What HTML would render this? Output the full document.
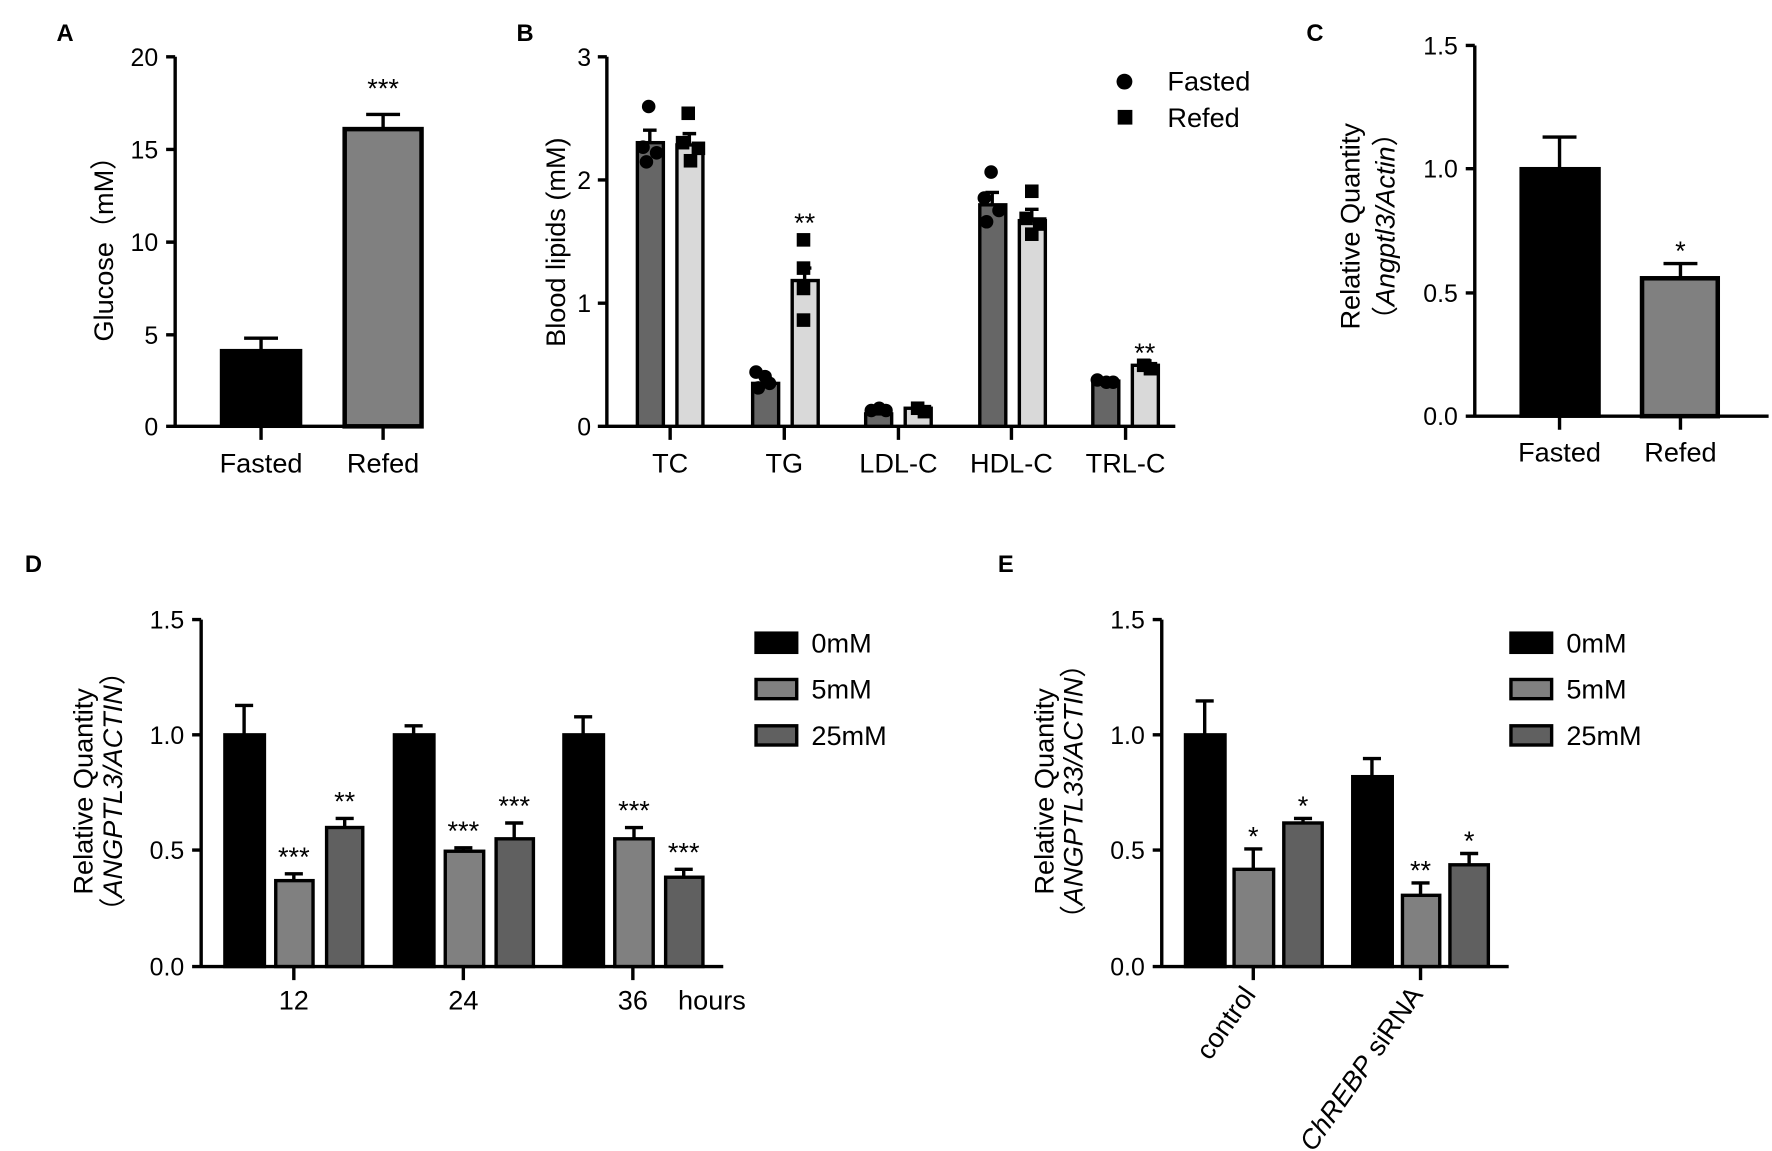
<!DOCTYPE html>
<html><head><meta charset="utf-8"><style>
html,body{margin:0;padding:0;background:#fff}
svg{display:block}
text{font-family:"Liberation Sans",Arial,sans-serif;fill:#000}
.t{font-size:22px}
.c{font-size:24px}
.p{font-size:21px;font-weight:bold}
.s{font-size:24px}
</style></head><body>
<svg width="1772" height="1151" viewBox="0 0 1568 1018" xmlns="http://www.w3.org/2000/svg">
<rect width="1568" height="1018" fill="#fff"/>
<g stroke="#000" stroke-width="3" fill="none">
<path d="M155,50V377M148,377H373M147,50H155M147,132H155M147,214H155M147,296H155M147,377H155M231,377V389M339,377V389"/>
<path d="M537,50V377M530,377H1040M529,50H537M529,159H537M529,268H537M529,377H537M593,377V389M694,377V389M795,377V389M895,377V389M996,377V389"/>
<path d="M1305,40V368M1298,368H1565M1297,40H1305M1297,149H1305M1297,259H1305M1297,368H1305M1380,368V380M1487,368V380"/>
<path d="M178,548V855M171,855H640M170,548H178M170,650H178M170,752H178M170,855H178M260,855V867M410,855V867M560,855V867"/>
<path d="M1028,548V855M1021,855H1335M1020,548H1028M1020,650H1028M1020,752H1028M1020,855H1028M1109,855V867M1257,855V867"/>
</g>
<g stroke="#000" stroke-width="3">
<path d="M231,310V299M216,299H246M339,114V101M324,101H354" fill="none"/>
<rect x="196" y="310" width="70" height="67" fill="#000"/>
<rect x="305" y="114" width="68" height="263" fill="#808080" stroke-width="4"/>
</g>
<text class="p" x="50" y="36">A</text>
<text class="s" x="339" y="86" text-anchor="middle">***</text>
<g class="t" text-anchor="end"><text x="140" y="58">20</text><text x="140" y="140">15</text><text x="140" y="222">10</text><text x="140" y="304">5</text><text x="140" y="385">0</text></g>
<g class="c" text-anchor="middle"><text x="231" y="418">Fasted</text><text x="339" y="418">Refed</text></g>
<text class="c" transform="translate(100,214) rotate(-90)" text-anchor="middle">Glucose（mM）</text>
<text class="p" x="457" y="36">B</text>
<g class="t" text-anchor="end"><text x="523" y="58">3</text><text x="523" y="167">2</text><text x="523" y="276">1</text><text x="523" y="385">0</text></g>
<g class="c" text-anchor="middle"><text x="593" y="418">TC</text><text x="694" y="418">TG</text><text x="795" y="418">LDL-C</text><text x="895" y="418">HDL-C</text><text x="996" y="418">TRL-C</text></g>
<text class="c" transform="translate(500,214) rotate(-90)" text-anchor="middle">Blood lipids (mM)</text>
<g stroke="#000" stroke-width="3">
<rect x="564" y="126" width="23" height="251" fill="#666"/><rect x="599" y="128" width="23" height="249" fill="#d9d9d9"/>
<rect x="666" y="339" width="23" height="38" fill="#666"/><rect x="701" y="248" width="23" height="129" fill="#d9d9d9"/>
<rect x="766" y="366" width="23" height="11" fill="#666"/><rect x="801" y="361" width="23" height="16" fill="#d9d9d9"/>
<rect x="867" y="181" width="23" height="196" fill="#666"/><rect x="902" y="195" width="23" height="182" fill="#d9d9d9"/>
<rect x="967" y="337" width="23" height="40" fill="#666"/><rect x="1002" y="323" width="23" height="54" fill="#d9d9d9"/>
<path fill="none" d="M575,126V115M569,115H581M610,128V118M604,118H616M712,248V237M706,237H718M878,181V170M872,170H884M913,195V185M907,185H919M1013,323V319M1007,319H1019"/>
</g>
<g fill="#000">
<circle cx="574" cy="94" r="6"/><circle cx="569" cy="130" r="6"/><circle cx="581" cy="135" r="6"/><circle cx="572" cy="143" r="6"/>
<rect x="603" y="94" width="12" height="12"/><rect x="598" y="120" width="12" height="12"/><rect x="612" y="125" width="12" height="12"/><rect x="605" y="136" width="12" height="12"/>
<circle cx="669" cy="329" r="6"/><circle cx="677" cy="333" r="6"/><circle cx="681" cy="339" r="6"/><circle cx="671" cy="343" r="6"/>
<rect x="705" y="206" width="12" height="12"/><rect x="705" y="231" width="12" height="12"/><rect x="705" y="249" width="12" height="12"/><rect x="705" y="277" width="12" height="12"/>
<circle cx="771" cy="363" r="6"/><circle cx="778" cy="361" r="6"/><circle cx="784" cy="363" r="6"/>
<rect x="806" y="355" width="12" height="12"/><rect x="812" y="358" width="12" height="12"/>
<circle cx="877" cy="152" r="6"/><circle cx="871" cy="175" r="6"/><circle cx="884" cy="186" r="6"/><circle cx="873" cy="196" r="6"/>
<rect x="907" y="163" width="12" height="12"/><rect x="902" y="187" width="12" height="12"/><rect x="914" y="192" width="12" height="12"/><rect x="907" y="201" width="12" height="12"/>
<circle cx="971" cy="336" r="6"/><circle cx="979" cy="338" r="6"/><circle cx="985" cy="338" r="6"/>
<rect x="1006" y="317" width="12" height="12"/><rect x="1012" y="320" width="12" height="12"/>
<circle cx="995" cy="72" r="7"/><rect x="989" y="97" width="13" height="13"/>
</g>
<text class="s" x="712" y="205" text-anchor="middle">**</text>
<text class="s" x="1013" y="320" text-anchor="middle">**</text>
<text class="c" x="1033" y="80">Fasted</text><text class="c" x="1033" y="112">Refed</text>
<text class="p" x="1156" y="36">C</text>
<g class="t" text-anchor="end"><text x="1290" y="48">1.5</text><text x="1290" y="157">1.0</text><text x="1290" y="267">0.5</text><text x="1290" y="376">0.0</text></g>
<g class="c" text-anchor="middle"><text x="1380" y="408">Fasted</text><text x="1487" y="408">Refed</text></g>
<g stroke="#000" stroke-width="3">
<path fill="none" d="M1380,149V121M1365,121H1395M1487,246V233M1472,233H1502"/>
<rect x="1346" y="149" width="69" height="219" fill="#000"/>
<rect x="1453" y="246" width="67" height="122" fill="#808080" stroke-width="4"/>
</g>
<text class="s" x="1487" y="230" text-anchor="middle">*</text>
<text class="c" transform="translate(1203,200) rotate(-90)" text-anchor="middle">Relative Quantity</text>
<text class="c" transform="translate(1234,200) rotate(-90)" text-anchor="middle">（<tspan font-style="italic">Angptl3/Actin</tspan>）</text>
<text class="p" x="22" y="506">D</text>
<g class="t" text-anchor="end"><text x="163" y="556">1.5</text><text x="163" y="658">1.0</text><text x="163" y="760">0.5</text><text x="163" y="863">0.0</text></g>
<g class="c" text-anchor="middle"><text x="260" y="893">12</text><text x="410" y="893">24</text><text x="560" y="893">36</text></g>
<text class="c" x="600" y="893">hours</text>
<text class="c" transform="translate(82,700) rotate(-90)" text-anchor="middle">Relative Quantity</text>
<text class="c" transform="translate(108,700) rotate(-90)" text-anchor="middle">（<tspan font-style="italic">ANGPTL3/ACTIN</tspan>）</text>
<g stroke="#000" stroke-width="3">
<path fill="none" d="M216,650V624M208,624H224M260,779V773M252,773H268M305,732V724M297,724H313M366,650V642M358,642H374M410,753V750M402,750H418M455,742V728M447,728H463M516,650V634M508,634H524M561,742V732M553,732H569M605,776V769M597,769H613"/>
<rect x="199" y="650" width="35" height="205" fill="#000"/>
<rect x="244" y="779" width="33" height="76" fill="#808080"/>
<rect x="289" y="732" width="32" height="123" fill="#606060"/>
<rect x="349" y="650" width="35" height="205" fill="#000"/>
<rect x="394" y="753" width="34" height="102" fill="#808080"/>
<rect x="439" y="742" width="33" height="113" fill="#606060"/>
<rect x="499" y="650" width="35" height="205" fill="#000"/>
<rect x="544" y="742" width="34" height="113" fill="#808080"/>
<rect x="589" y="776" width="33" height="79" fill="#606060"/>
<rect x="669" y="560" width="36" height="17" fill="#000"/>
<rect x="669" y="601" width="36" height="17" fill="#808080"/>
<rect x="669" y="642" width="36" height="17" fill="#606060"/>
<rect x="1337" y="560" width="36" height="17" fill="#000"/>
<rect x="1337" y="601" width="36" height="17" fill="#808080"/>
<rect x="1337" y="642" width="36" height="17" fill="#606060"/>
</g>
<g class="s" text-anchor="middle"><text x="260" y="766">***</text><text x="305" y="717">**</text><text x="410" y="743">***</text><text x="455" y="721">***</text><text x="561" y="725">***</text><text x="605" y="762">***</text></g>
<g class="c"><text x="718" y="577">0mM</text><text x="718" y="618">5mM</text><text x="718" y="659">25mM</text>
<text x="1386" y="577">0mM</text><text x="1386" y="618">5mM</text><text x="1386" y="659">25mM</text></g>
<text class="p" x="883" y="506">E</text>
<g class="t" text-anchor="end"><text x="1013" y="556">1.5</text><text x="1013" y="658">1.0</text><text x="1013" y="760">0.5</text><text x="1013" y="863">0.0</text></g>
<text class="c" transform="translate(932,700) rotate(-90)" text-anchor="middle">Relative Quantity</text>
<text class="c" transform="translate(958,700) rotate(-90)" text-anchor="middle">（<tspan font-style="italic">ANGPTL33/ACTIN</tspan>）</text>
<g stroke="#000" stroke-width="3">
<path fill="none" d="M1066,650V620M1058,620H1074M1109,769V751M1101,751H1117M1153,728V724M1145,724H1161M1214,687V671M1206,671H1222M1257,792V781M1249,781H1265M1300,765V755M1292,755H1308"/>
<rect x="1049" y="650" width="35" height="205" fill="#000"/>
<rect x="1092" y="769" width="35" height="86" fill="#808080"/>
<rect x="1136" y="728" width="34" height="127" fill="#606060"/>
<rect x="1197" y="687" width="35" height="168" fill="#000"/>
<rect x="1241" y="792" width="33" height="63" fill="#808080"/>
<rect x="1283" y="765" width="34" height="90" fill="#606060"/>
</g>
<g class="s" text-anchor="middle"><text x="1109" y="748">*</text><text x="1153" y="721">*</text><text x="1257" y="778">**</text><text x="1300" y="752">*</text></g>
<text class="c" transform="translate(1112,880) rotate(-55)" text-anchor="end">control</text>
<text class="c" transform="translate(1260,880) rotate(-55)" text-anchor="end"><tspan font-style="italic">ChREBP</tspan> siRNA</text>
</svg>
</body></html>
